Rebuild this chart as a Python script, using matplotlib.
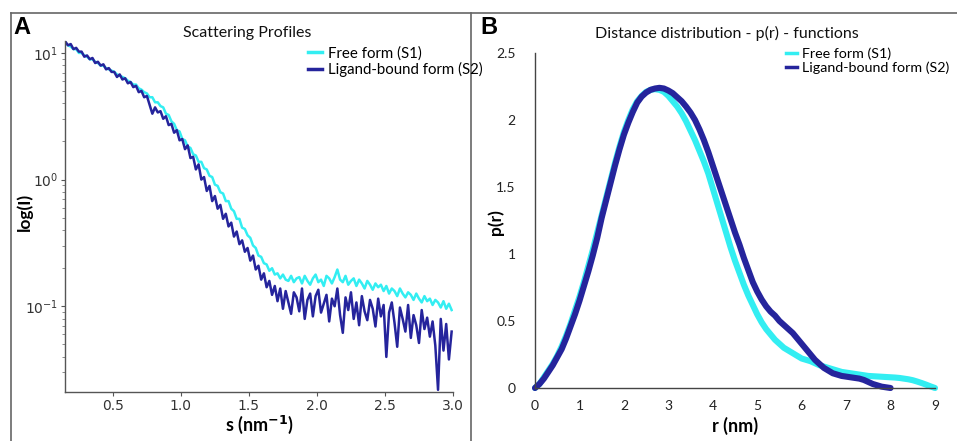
import numpy as np
import matplotlib
matplotlib.use("Agg")
import matplotlib.pyplot as plt
from matplotlib.lines import Line2D
from matplotlib.ticker import LogLocator, NullFormatter, FixedLocator

# ---------------- data ----------------
# Panel A: scattering profiles, log10(I) sampled every 0.02 nm^-1 starting at s = 0.15
s_start = 0.15
s_step = 0.02
logI_free = [
    1.08, 1.06, 1.05, 1.03, 1.03, 1.00, 1.00, 0.98, 0.97, 0.95, 0.95, 0.93, 0.92, 0.90, 0.90,
    0.88, 0.87, 0.86, 0.85, 0.83, 0.82, 0.81, 0.80, 0.78, 0.77, 0.75, 0.75, 0.72, 0.71, 0.69,
    0.68,
    0.65, 0.65, 0.61, 0.61, 0.58, 0.57, 0.52, 0.51, 0.46, 0.44, 0.39, 0.38, 0.32, 0.31, 0.26,
    0.25, 0.20, 0.19, 0.14, 0.14, 0.09, 0.08, 0.03, 0.02, -0.04, -0.05, -0.10, -0.11, -0.17,
    -0.17, -0.23, -0.25, -0.31, -0.31, -0.38, -0.39, -0.44, -0.46, -0.52, -0.54, -0.60, -0.61,
    -0.66, -0.67, -0.72, -0.70, -0.75, -0.74, -0.78, -0.75, -0.79, -0.80, -0.76, -0.81, -0.78,
    -0.77, -0.82, -0.76, -0.80, -0.83, -0.78, -0.75,
    -0.81, -0.79, -0.84, -0.76, -0.78, -0.82, -0.77, -0.71, -0.79, -0.81, -0.76, -0.83, -0.80,
    -0.78, -0.84, -0.79, -0.82, -0.86, -0.80, -0.83,
    -0.87, -0.82, -0.85, -0.83, -0.88, -0.84, -0.90, -0.86, -0.88, -0.92, -0.86, -0.90, -0.93,
    -0.89, -0.91, -0.95, -0.90, -0.94, -0.97, -0.92,
    -0.96, -0.94, -0.99, -0.95, -0.97, -1.01, -0.96, -1.02, -0.98, -1.03,
]
logI_bound = [
    1.09, 1.06, 1.07, 1.03, 1.04, 1.01, 1.01, 0.97, 0.98, 0.95, 0.96, 0.92, 0.93, 0.90, 0.91,
    0.87, 0.88, 0.85, 0.85, 0.81, 0.83, 0.79, 0.80, 0.76, 0.77, 0.73, 0.74, 0.69, 0.70, 0.65,
    0.66,
    0.59, 0.52, 0.57, 0.53, 0.54, 0.48, 0.50, 0.43, 0.44, 0.37, 0.39, 0.31, 0.32, 0.24, 0.27,
    0.17, 0.18, 0.08, 0.12, 0.00, 0.02, -0.09, -0.05, -0.17, -0.13, -0.23, -0.20, -0.31, -0.27,
    -0.37, -0.34, -0.45, -0.41, -0.51, -0.48, -0.57, -0.54, -0.64, -0.60, -0.71, -0.68, -0.79,
    -0.74, -0.85, -0.80, -0.91, -0.84, -0.96, -0.86, -1.02, -0.88, -0.97, -1.06, -0.89, -0.93,
    -1.04, -0.86, -1.10, -0.95, -0.90, -1.08, -0.92,
    -0.87, -1.05, -0.98, -0.91, -1.12, -0.94, -1.00, -0.86, -1.07, -1.21, -0.93, -1.03, -0.89,
    -1.10, -0.97, -1.15, -0.92, -1.04, -1.11, -0.95,
    -1.02, -1.16, -0.94, -1.08, -0.99, -1.40, -1.05, -0.97, -1.13, -1.32, -1.01, -1.10, -1.20,
    -0.99, -1.25, -1.07, -1.15, -1.29, -1.03, -1.18,
    -1.09, -1.24, -1.12, -1.31, -1.66, -1.10, -1.35, -1.14, -1.42, -1.20,
]

# Panel B: p(r) functions, sampled every 0.1 nm starting at r = 0
r_step = 0.1
pr_free = [
    0.00, 0.03, 0.08, 0.13, 0.18, 0.24, 0.31, 0.39, 0.48, 0.58,
    0.68, 0.79, 0.91, 1.03, 1.16, 1.29, 1.42, 1.55, 1.68, 1.80,
    1.91, 2.00, 2.08, 2.14, 2.18, 2.21, 2.225, 2.23, 2.225, 2.21,
    2.18, 2.14, 2.10, 2.05, 1.99, 1.92, 1.85, 1.77, 1.69, 1.60,
    1.49, 1.38, 1.27, 1.16, 1.05, 0.95, 0.86, 0.77, 0.69, 0.62,
    0.55, 0.49, 0.44, 0.40, 0.36, 0.33, 0.30, 0.28, 0.26, 0.24,
    0.22, 0.21, 0.20, 0.185, 0.17, 0.16, 0.15, 0.14, 0.13, 0.12,
    0.115, 0.11, 0.105, 0.10, 0.095, 0.09, 0.088, 0.086, 0.084, 0.082,
    0.08, 0.078, 0.075, 0.07, 0.065, 0.058, 0.048, 0.037, 0.025, 0.012,
    0.0,
]
pr_bound = [
    0.00, 0.03, 0.07, 0.12, 0.17, 0.23, 0.29, 0.37, 0.46, 0.55,
    0.65, 0.76, 0.87, 0.99, 1.12, 1.27, 1.40, 1.53, 1.66, 1.78,
    1.89, 1.98, 2.06, 2.13, 2.175, 2.205, 2.225, 2.235, 2.24, 2.235,
    2.22, 2.20, 2.17, 2.14, 2.10, 2.055, 2.00, 1.93, 1.85, 1.76,
    1.66, 1.56, 1.46, 1.36, 1.26, 1.16, 1.07, 0.97, 0.88, 0.79,
    0.72, 0.66, 0.61, 0.57, 0.54, 0.50, 0.47, 0.44, 0.41, 0.37,
    0.33, 0.29, 0.25, 0.21, 0.18, 0.15, 0.13, 0.11, 0.10, 0.09,
    0.085, 0.08, 0.075, 0.07, 0.06, 0.045, 0.03, 0.02, 0.01, 0.005,
    0.0,
]

labels = ["Free form (S1)", "Ligand-bound form (S2)"]
labels_b = ["Free form (S1)", "Ligand-bound form (S2)"]
xticks_a = [0.5, 1.0, 1.5, 2.0, 2.5, 3.0]
xticks_b = [0, 1, 2, 3, 4, 5, 6, 7, 8, 9]
yticks_b = [0, 0.5, 1, 1.5, 2, 2.5]
ytick_labels_b = ["0", "0.5", "1", "1.5", "2", "2.5"]

C_FREE = "#33eef2"
C_BOUND = "#25249c"
UIFONT = "Lato"

# ---------------- figure ----------------
W, H = 957, 441
fig = plt.figure(figsize=(W / 100, H / 100), dpi=100)

def fx(px):
    return px / W

def fy(py):
    return 1 - py / H

# outer frame lines
frame_kw = dict(color="#666666", lw=1.2, transform=fig.transFigure, clip_on=False)
fig.add_artist(Line2D([fx(11), 1.0], [fy(13), fy(13)], **frame_kw))
fig.add_artist(Line2D([fx(11), fx(11)], [fy(13), 0.0], **frame_kw))
fig.add_artist(Line2D([fx(471), fx(471)], [fy(13), 0.0], **frame_kw))

# ---------------- panel A ----------------
axA = fig.add_axes([fx(65), fy(392), fx(453) - fx(65), fy(41) - fy(392)])
sA = s_start + s_step * np.arange(len(logI_free))
sB = s_start + s_step * np.arange(len(logI_bound))
axA.plot(sA, 10 ** np.array(logI_free), color=C_FREE, lw=1.8)
axA.plot(sB, 10 ** np.array(logI_bound), color=C_BOUND, lw=1.8)
axA.set_yscale("log")
axA.set_xlim(0.148, 3.0)
axA.set_ylim(10 ** -1.677, 10 ** 1.094)
axA.xaxis.set_major_locator(FixedLocator(xticks_a))
axA.set_xticklabels([f"{v:.1f}" for v in xticks_a])
axA.yaxis.set_major_locator(LogLocator(base=10, numticks=10))
axA.yaxis.set_minor_locator(LogLocator(base=10, subs=np.arange(2, 10), numticks=20))
axA.yaxis.set_minor_formatter(NullFormatter())
for sp in ["top", "right"]:
    axA.spines[sp].set_visible(False)
for sp in ["left", "bottom"]:
    axA.spines[sp].set_color("#555555")
    axA.spines[sp].set_linewidth(1.0)
axA.tick_params(axis="both", which="major", length=3, width=0.8, color="#555555",
                labelsize=10, labelcolor="#333333", pad=2)
axA.tick_params(axis="y", which="minor", length=2, width=0.6, color="#777777")
axA.set_xlabel("s (nm$^{\\mathbf{-1}}$)", fontsize=13, fontweight="bold",
               family=UIFONT, labelpad=1)
fig.text(fx(25), fy(212), "log(I)", rotation=90, ha="center", va="center",
         fontsize=12.5, fontweight="bold", family=UIFONT)
fig.text(fx(247), fy(33), "Scattering Profiles", ha="center", va="center",
         fontsize=11.5, family=UIFONT, color="#111111")
fig.text(fx(13), fy(28), "A", ha="left", va="center", fontsize=17,
         fontweight="bold", family="Liberation Sans")
hA = [Line2D([], [], color=C_FREE, lw=2.5), Line2D([], [], color=C_BOUND, lw=2.5)]
fig.legend(hA, labels, loc="upper left", bbox_to_anchor=(fx(308), fy(46)),
           frameon=False, handlelength=0.9, handletextpad=0.4, labelspacing=0.12,
           borderpad=0, borderaxespad=0,
           prop={"family": UIFONT, "size": 10.8})

# ---------------- panel B ----------------
axB = fig.add_axes([fx(535), fy(388), fx(935) - fx(535), fy(53) - fy(388)])
rF = r_step * np.arange(len(pr_free))
rB = r_step * np.arange(len(pr_bound))
axB.plot(rF, pr_free, color=C_FREE, lw=4.4, solid_capstyle="round", clip_on=False)
axB.plot(rB, pr_bound, color=C_BOUND, lw=4.4, solid_capstyle="round", clip_on=False)
axB.set_xlim(0, 9)
axB.set_ylim(0, 2.5)
axB.set_xticks(xticks_b)
axB.set_xticklabels([str(v) for v in xticks_b])
axB.set_yticks(yticks_b)
axB.set_yticklabels(ytick_labels_b)
for sp in ["top", "right"]:
    axB.spines[sp].set_visible(False)
for sp in ["left", "bottom"]:
    axB.spines[sp].set_color("#444444")
    axB.spines[sp].set_linewidth(1.0)
axB.tick_params(axis="both", length=0, labelsize=10, labelcolor="#222222")
axB.tick_params(axis="y", pad=14)
axB.tick_params(axis="x", pad=9)
for lab in axB.get_xticklabels() + axB.get_yticklabels():
    lab.set_family(UIFONT)
axB.set_xlabel("r (nm)", fontsize=13, fontweight="bold", family=UIFONT, labelpad=3)
fig.text(fx(496), fy(222), "p(r)", rotation=90, ha="center", va="center",
         fontsize=12.5, fontweight="bold", family=UIFONT)
fig.text(fx(727), fy(33), "Distance distribution - p(r) - functions", ha="center",
         va="center", fontsize=11.5, family=UIFONT, color="#111111")
fig.text(fx(480), fy(28), "B", ha="left", va="center", fontsize=17,
         fontweight="bold", family="Liberation Sans")
hB = [Line2D([], [], color=C_FREE, lw=2.5), Line2D([], [], color=C_BOUND, lw=2.5)]
fig.legend(hB, labels_b, loc="upper left", bbox_to_anchor=(fx(786), fy(47)),
           frameon=False, handlelength=0.8, handletextpad=0.35, labelspacing=0.12,
           borderpad=0, borderaxespad=0,
           prop={"family": UIFONT, "size": 10.3})

fig.savefig("out.png", dpi=100, facecolor="white")
